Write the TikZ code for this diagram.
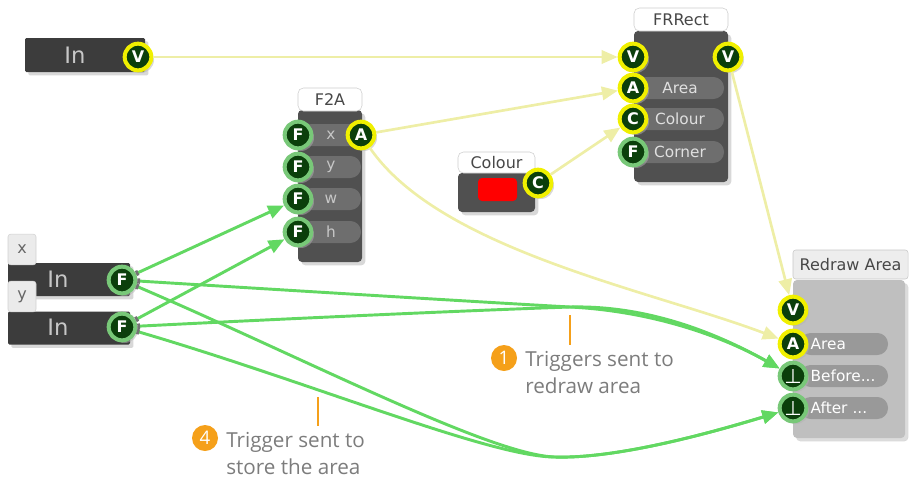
\documentclass[tikz,border=0pt]{standalone}
\usepackage{fontspec}
\setmainfont{DejaVu Sans}
\newfontfamily\notefont{Open Sans}
\usepackage{tikz}
\usetikzlibrary{arrows.meta, shadows}
\definecolor{myInBlock}{HTML}{3C3C3C}
\definecolor{myBlock}{HTML}{505050}
\definecolor{myPill}{HTML}{6E6E6E}
\definecolor{myPort}{HTML}{0B3F0B}
\definecolor{myYellow}{HTML}{F0F000}
\definecolor{myLeaf}{HTML}{78C878}
\definecolor{myWire}{HTML}{EEEEA6}
\definecolor{myTrig}{HTML}{62D862}
\definecolor{myOrange}{HTML}{F5A01A}
\definecolor{myNote}{HTML}{7C7C7C}
\newcommand{\trigmark}{{\mdseries\fontsize{15}{15}\selectfont ⊥}}

\begin{document}
\begin{tikzpicture}[x=0.75pt, y=-0.75pt,
  block/.style={fill=myBlock, rounded corners=3pt, inner sep=0pt,
                drop shadow={shadow xshift=2.5pt, shadow yshift=-2.5pt, fill=black!30}},
  inblock/.style={block, fill=myInBlock, rounded corners=1pt},
  lblock/.style={block, fill=black!25, drop shadow={shadow xshift=2pt, shadow yshift=-2pt, fill=black!12}},
  head/.style={fill=white, draw=black!20, rounded corners=4pt, inner sep=0pt,
               text=black!72, font=\fontsize{12}{12}\selectfont},
  tab/.style={fill=black!8, draw=black!18, rounded corners=2pt, inner sep=0pt,
              minimum width=21pt, minimum height=23pt, text=black!60,
              font=\fontsize{12}{12}\selectfont},
  intext/.style={text=black!22, inner sep=0pt, font=\fontsize{17}{17}\selectfont},
  pill/.style={fill=myPill, rounded corners=8pt, minimum height=16.5pt, inner sep=0pt,
               text=black!22, font=\fontsize{11.5}{11.5}\selectfont},
  rpill/.style={pill, fill=black!40, text=white, minimum width=66pt, text width=50pt,
                inner xsep=8pt, align=left},
  port/.style={circle, minimum size=20pt, inner sep=0pt, line width=3pt, fill=myPort,
               text=white, font=\bfseries\fontsize{12}{12}\selectfont,
               drop shadow={shadow xshift=2pt, shadow yshift=-2pt, fill=black!30}},
  vport/.style={port, draw=myYellow},
  fport/.style={port, draw=myLeaf},
  val/.style={draw=myWire, line width=2pt, -{Triangle[length=12pt, width=10pt]}},
  trig/.style={draw=myTrig, line width=2.2pt,
               arrows={Rectangle[length=2pt, width=4pt, color=black!55]-Triangle[length=12pt, width=10pt]}},
  num/.style={circle, fill=myOrange, text=white, minimum size=19.5pt, inner sep=0pt,
              font=\notefont\fontsize{14}{14}\selectfont},
  note/.style={anchor=west, inner sep=0pt, align=left, text=myNote,
               font=\notefont\fontsize{15.5}{20.25}\selectfont},
  leader/.style={draw=myOrange, line width=2.2pt}
]
\useasboundingbox (0,0) rectangle (912,479);

% value input
\node[inblock, minimum width=90pt, minimum height=25.5pt] (inTop) at (85,55) {};
\node[intext] (inTopTxt) at (75,55) {In};
\node[vport] (inTopOut) at (138,57) {V};

% x and y inputs
\node[inblock, minimum width=91.5pt, minimum height=24.75pt] (inX) at (69,279.5) {};
\node[tab] (tabX) at (22,249.5) {x};
\node[intext] (inXTxt) at (58,279) {In};
\node[fport] (xOut) at (122,280) {F};
\node[inblock, minimum width=91.5pt, minimum height=24.75pt] (inY) at (69,328) {};
\node[tab] (tabY) at (22,296.5) {y};
\node[intext] (inYTxt) at (58,327) {In};
\node[fport] (yOut) at (122,327) {F};

% F2A
\node[block, minimum width=48pt, minimum height=114pt] (f2a) at (330,186) {};
\node[head, minimum width=48pt, minimum height=17.25pt] (f2aHead) at (330,99.5) {F2A};
\node[pill, minimum width=45pt] (f2aX) at (331,135) {x};
\node[pill, minimum width=45pt] (f2aY) at (331,167) {y};
\node[pill, minimum width=45pt] (f2aW) at (331,199) {w};
\node[pill, minimum width=45pt] (f2aH) at (331,232) {h};
\node[fport] (f2aInX) at (298,135) {F};
\node[fport] (f2aInY) at (298,167) {F};
\node[fport] (f2aInW) at (298,199) {F};
\node[fport] (f2aInH) at (298,232) {F};
\node[vport] (f2aOut) at (361,135) {A};

% colour constant
\node[block, minimum width=57.75pt, minimum height=29.25pt] (colour) at (496.5,192.5) {};
\node[head, minimum width=57.75pt, minimum height=15.75pt] (colourHead) at (496.5,162.5) {Colour};
\node[fill=red, rounded corners=3pt, minimum width=29.25pt, minimum height=17.25pt] (swatch) at (497.5,189.5) {};
\node[vport] (colourOut) at (538,183) {C};

% FRRect
\node[block, minimum width=70.5pt, minimum height=113.25pt] (frrect) at (681,106.5) {};
\node[head, minimum width=70.5pt, minimum height=17.25pt] (frrectHead) at (681,19.5) {FRRect};
\node[pill, minimum width=66pt, text=black!12] (frArea) at (680,88) {Area};
\node[pill, minimum width=66pt, text=black!12] (frColour) at (680,119) {Colour};
\node[pill, minimum width=66pt, text=black!12] (frCorner) at (680,152) {Corner};
\node[vport] (frInV) at (633,57) {V};
\node[vport] (frInA) at (633,88) {A};
\node[vport] (frInC) at (633,119) {C};
\node[fport] (frInF) at (633,152) {F};
\node[vport] (frOut) at (728,57) {V};

% Redraw Area
\node[lblock, minimum width=84pt, minimum height=118.5pt] (redraw) at (849,359) {};
\node[head, fill=black!7, draw=black!22, rounded corners=2pt, minimum width=86.25pt,
      minimum height=21.75pt] (redrawHead) at (850.5,264.5) {Redraw Area};
\node[rpill] (rdArea) at (844,344) {Area};
\node[rpill] (rdBeforeTxt) at (844,376) {Before...};
\node[rpill] (rdAfterTxt) at (844,408) {After ...};
\node[vport] (rdV) at (793,310) {V};
\node[vport] (rdA) at (793,344) {A};
\node[fport] (rdBefore) at (793,376) {\trigmark};
\node[fport] (rdAfter) at (793,408) {\trigmark};

% values
\draw[val] (inTopOut) -- (frInV);
\draw[val] (f2aOut) -- (frInA);
\draw[val] (colourOut) -- (frInC);
\draw[val] (frOut) -- (rdV);
\draw[val] (f2aOut) .. controls (440,250) and (650,290) .. (rdA);

% triggers
\coordinate (bendB) at (570,307);
\coordinate (bendA) at (555,457);
\draw[trig] (xOut) -- (f2aInW);
\draw[trig] (yOut) -- (f2aInH);
\draw[trig] (xOut) .. controls (300,291) and (480,302) .. (bendB)
  .. controls (650,311) and (720,335) .. (rdBefore);
\draw[trig] (yOut) .. controls (300,318) and (480,310) .. (bendB)
  .. controls (650,305) and (720,335) .. (rdBefore);
\draw[trig] (xOut) .. controls (304,358) and (490,455) .. (bendA)
  .. controls (620,459) and (720,430) .. (rdAfter);
\draw[trig] (yOut) .. controls (313,383) and (490,457) .. (bendA)
  .. controls (620,459) and (720,430) .. (rdAfter);

% notes
\coordinate (lead1) at (570,315);
\coordinate (lead4) at (318,397);
\draw[leader] (lead1) -- ++(0,30);
\draw[leader] (lead4) -- ++(0,29);
\node[num] (n1) at (504,358) {1};
\node[note] (note1) at (525,373) {Triggers sent to\\redraw area};
\node[num] (n4) at (205,438) {4};
\node[note] (note4) at (226,454) {Trigger sent to\\store the area};
\end{tikzpicture}
\end{document}
